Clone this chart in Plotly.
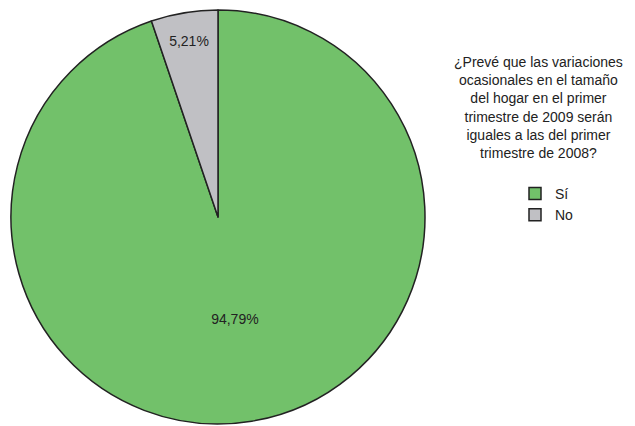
import plotly.graph_objects as go

labels = ["Sí", "No"]
values = [94.79, 5.21]
text_labels = ["94,79%", "5,21%"]
colors = ["#72c16a", "#c0c0c4"]
title_text = ("¿Prevé que las variaciones<br>ocasionales en el tamaño<br>del hogar en el primer"
              "<br>trimestre de 2009 serán<br>iguales a las del primer<br>trimestre de 2008?")

FONT = "Liberation Sans, Arial, sans-serif"
W, H = 635, 426

fig = go.Figure(go.Pie(
    labels=labels,
    values=values,
    text=text_labels,
    textinfo="text",
    textposition="inside",
    insidetextorientation="horizontal",
    textfont=dict(family=FONT, size=14, color="#222222"),
    marker=dict(colors=colors, line=dict(color="#222222", width=1.5)),
    sort=False,
    direction="clockwise",
    rotation=0,
    hoverinfo="label+percent",
    domain=dict(x=[11 / W, 425 / W], y=[2 / H, 416 / H]),
))

fig.add_annotation(
    text=title_text, x=538 / W, y=1 - 52 / H, xref="paper", yref="paper",
    xanchor="center", yanchor="top", showarrow=False, align="center",
    font=dict(family=FONT, size=14, color="#222222"),
)

fig.update_layout(
    width=W, height=H,
    margin=dict(l=0, r=0, t=0, b=0),
    paper_bgcolor="white",
    plot_bgcolor="white",
    showlegend=True,
    legend=dict(
        x=515 / W, y=1 - 178 / H, xanchor="left", yanchor="top",
        font=dict(family=FONT, size=14, color="#222222"),
        traceorder="normal", itemwidth=30, tracegroupgap=0,
    ),
)

fig.write_html("out.html")
